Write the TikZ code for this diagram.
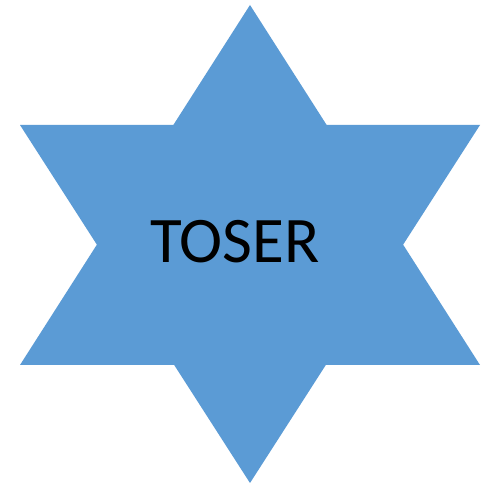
\documentclass[tikz,border=0pt]{standalone}
\usepackage{fontspec}
\setmainfont{Carlito}
\usepackage{tikz}
\usetikzlibrary{positioning}

\definecolor{starblue}{RGB}{91,155,213}

\begin{document}
\begin{tikzpicture}[x=1pt, y=1pt,
    star/.style={fill=starblue},
    lbl/.style={font=\fontsize{65}{65}\selectfont, text=black, inner sep=0pt}
]
    \fill[white] (0,0) rectangle (484,485);
    \useasboundingbox (0,0) rectangle (484,485);
    % the two triangles of the star
    \fill[star] (250,480) -- (480,120) -- (20,120) -- cycle;
    \fill[star] (250,2) -- (20,360) -- (480,360) -- cycle;
    \node[lbl, anchor=base] (name) at (235,222) {TOSER};
\end{tikzpicture}
\end{document}
